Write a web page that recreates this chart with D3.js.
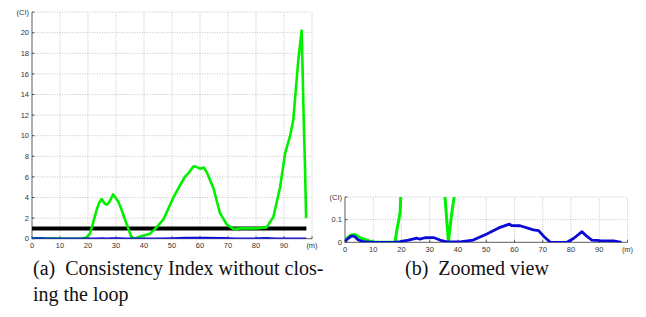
<!DOCTYPE html>
<html>
<head>
<meta charset="utf-8">
<script src="https://cdn.jsdelivr.net/npm/d3@7"></script>
<style>
  body { margin: 0; background: #fff; }
  svg { display: block; }
  .tick-label { font-family: "Liberation Sans", Arial, sans-serif; font-size: 7.5px; fill: #333; }
  .caption { font-family: "Liberation Serif", "Times New Roman", serif; font-size: 20px; fill: #111; white-space: pre; }
</style>
</head>
<body>
<div id="chart"></div>
<script>
// green: CI without closing the loop
const greenDist = [0, 1.8, 3.5, 5.3, 8.8, 10.6, 17.7, 18.3, 19.5, 20.7, 22, 23.1, 24, 24.9, 26, 26.7, 27.5, 29, 30.8, 32, 32.9, 34.5, 35.4, 36.6, 37.8, 39.8, 42, 44.5, 47, 50.5, 52.5, 54.6, 56, 57.6, 58.5, 60, 61.4, 62.5, 64.8, 67.1, 69.5, 71.9, 75, 77.9, 80, 83.8, 86.2, 88.6, 90.4, 92.1, 93.3, 95.1, 96.3, 96.6, 97, 97.5, 97.9];
const greenCI = [0.01, 0.03, 0.035, 0.02, 0.005, 0, 0, 0.05, 0.13, 0.5, 1.7, 2.8, 3.5, 3.85, 3.4, 3.3, 3.5, 4.3, 3.6, 2.8, 2.1, 0.9, 0.2, 0.003, 0.13, 0.3, 0.45, 1.1, 1.9, 4.0, 5.0, 6.0, 6.4, 7.0, 7.0, 6.8, 6.9, 6.4, 4.9, 2.5, 1.4, 0.95, 1.0, 1.0, 1.0, 1.1, 2.1, 5.0, 8.3, 9.9, 11.5, 17.3, 20.2, 17, 12, 7, 2.0];

// blue: CI with loop closing
const blueDist = [0, 1.2, 2.4, 3.5, 4.7, 6.5, 10, 17.2, 19.5, 22.5, 25.4, 26.5, 28.3, 31.3, 33.6, 36, 40.7, 45.4, 50.2, 54.9, 58.2, 59, 62, 66.7, 68.5, 70.3, 72.7, 78.6, 81, 83.9, 85.1, 87.4, 90.4, 95, 97.9];
const blueCI = [0.005, 0.018, 0.028, 0.025, 0.01, 0.003, 0, 0, 0.003, 0.01, 0.018, 0.014, 0.02, 0.021, 0.01, 0.002, 0.002, 0.01, 0.037, 0.066, 0.08, 0.074, 0.073, 0.055, 0.052, 0.027, 0, 0, 0.018, 0.047, 0.032, 0.01, 0.007, 0.006, 0];

// threshold
const thresholdDist = [0, 98];
const thresholdCI = [1, 1];

const xTicks = [0, 10, 20, 30, 40, 50, 60, 70, 80, 90, 100];
const yTicksA = [0, 2, 4, 6, 8, 10, 12, 14, 16, 18, 20, 22];
const yTicksB = [0, 0.1, 0.2];

const width = 646, height = 317;
const svg = d3.select("#chart").append("svg")
  .attr("width", width)
  .attr("height", height);

const green = greenDist.map((d, i) => [d, greenCI[i]]);
const blue = blueDist.map((d, i) => [d, blueCI[i]]);
const threshold = thresholdDist.map((d, i) => [d, thresholdCI[i]]);

function panel(id, xRange, yRange, yDomain, yTicks, yFmt, series) {
  const x = d3.scaleLinear().domain([0, 100]).range(xRange);
  const y = d3.scaleLinear().domain(yDomain).range(yRange);
  const g = svg.append("g");

  g.append("defs").append("clipPath").attr("id", id)
    .append("rect")
    .attr("x", xRange[0]).attr("y", yRange[1])
    .attr("width", xRange[1] - xRange[0]).attr("height", yRange[0] - yRange[1]);

  // dotted grid
  g.selectAll(".gx").data(xTicks.slice(1)).join("line")
    .attr("x1", d => x(d)).attr("x2", d => x(d))
    .attr("y1", yRange[0]).attr("y2", yRange[1])
    .attr("stroke", "#b5b5b5").attr("stroke-width", 0.8).attr("stroke-dasharray", "1,1.5");
  g.selectAll(".gy").data(yTicks.slice(1)).join("line")
    .attr("x1", xRange[0]).attr("x2", xRange[1])
    .attr("y1", d => y(d)).attr("y2", d => y(d))
    .attr("stroke", "#b5b5b5").attr("stroke-width", 0.8).attr("stroke-dasharray", "1,1.5");

  // axes
  g.append("line").attr("x1", xRange[0]).attr("x2", xRange[0])
    .attr("y1", yRange[0]).attr("y2", yRange[1]).attr("stroke", "#333").attr("stroke-width", 0.8);
  g.append("line").attr("x1", xRange[0]).attr("x2", xRange[1])
    .attr("y1", yRange[0]).attr("y2", yRange[0]).attr("stroke", "#333").attr("stroke-width", 0.8);
  g.selectAll(".tx").data(xTicks).join("line")
    .attr("x1", d => x(d)).attr("x2", d => x(d))
    .attr("y1", yRange[0]).attr("y2", yRange[0] - 2.5)
    .attr("stroke", "#333").attr("stroke-width", 0.8);
  g.selectAll(".ty").data(yTicks).join("line")
    .attr("x1", xRange[0]).attr("x2", xRange[0] + 2.5)
    .attr("y1", d => y(d)).attr("y2", d => y(d))
    .attr("stroke", "#333").attr("stroke-width", 0.8);

  g.selectAll(".lx").data(xTicks).join("text")
    .attr("class", "tick-label")
    .attr("x", d => x(d)).attr("y", yRange[0] + 9.5)
    .attr("text-anchor", "middle")
    .text(d => d === 100 ? "(m)" : d);
  g.selectAll(".ly").data(yTicks).join("text")
    .attr("class", "tick-label")
    .attr("x", xRange[0] - 3).attr("y", d => y(d) + 2.7)
    .attr("text-anchor", "end")
    .text((d, i) => i === yTicks.length - 1 ? "(CI)" : yFmt(d));

  const line = d3.line().x(d => x(d[0])).y(d => y(d[1]));
  const plot = g.append("g").attr("clip-path", `url(#${id})`);
  series.forEach(s => {
    plot.append("path")
      .datum(s.data)
      .attr("d", line)
      .attr("fill", "none")
      .attr("stroke", s.color)
      .attr("stroke-width", s.w)
      .attr("stroke-linejoin", "round");
  });
}

panel("clipA", [32, 312], [238.7, 12.1], [0, 22], yTicksA, d => d, [
  {data: threshold, color: "#000", w: 4},
  {data: green, color: "#00f000", w: 2.6},
  {data: blue, color: "#0a0ad8", w: 2.3}
]);

panel("clipB", [345, 627.5], [242.3, 197], [0, 0.2], yTicksB, d => d === 0 ? "0" : d, [
  {data: green, color: "#00f000", w: 3},
  {data: blue, color: "#0a0ad8", w: 2.8}
]);

// captions
svg.append("text").attr("class", "caption").attr("x", 33).attr("y", 275)
  .text("(a)  Consistency Index without clos-");
svg.append("text").attr("class", "caption").attr("x", 33).attr("y", 301)
  .text("ing the loop");
svg.append("text").attr("class", "caption").attr("x", 405).attr("y", 275)
  .text("(b)  Zoomed view");
</script>
</body>
</html>
